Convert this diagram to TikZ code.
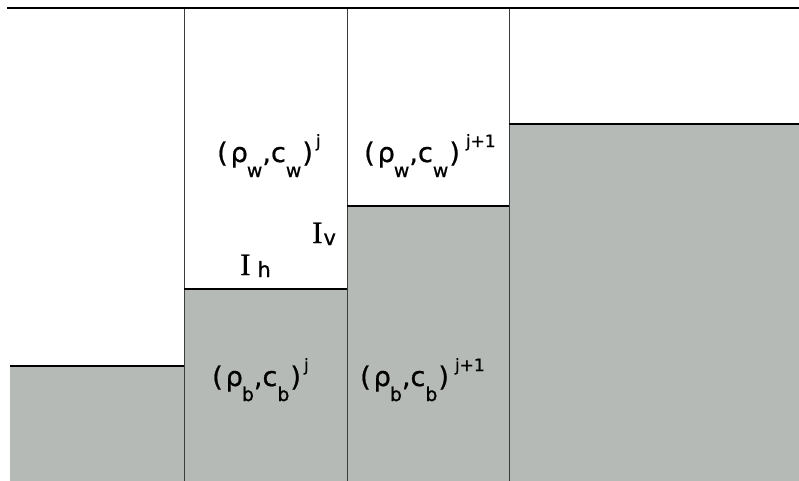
\documentclass[tikz,border=0pt]{standalone}
\usepackage{fontspec}
\setmainfont{DejaVu Sans}[FakeBold=0.8]
\newfontfamily\serifI{Liberation Serif}[FakeBold=0.8]
\definecolor{layergray}{RGB}{182,186,182}
\definecolor{gridline}{RGB}{60,60,60}
\newcommand\lowtxt[2]{\raisebox{-#1}{\fontsize{19}{19}\selectfont #2}}
\newcommand\hightxt[1]{\raisebox{15pt}{\fontsize{17}{17}\selectfont #1}}
\tikzset{
  boundary/.style={line width=2.8pt, black},
  divider/.style={line width=1pt, gridline},
  bed/.style={fill=layergray, draw=none},
  lbl/.style={anchor=base west, inner sep=0pt, font=\fontsize{27}{27}\selectfont},
  ilbl/.style={anchor=base west, inner sep=0pt}
}
\begin{document}
\begin{tikzpicture}[x=1pt,y=-1pt]
\useasboundingbox (0,0) rectangle (799,481);
% gray beds
\fill[bed] (10,366) rectangle (184,481);
\fill[bed] (184,289) rectangle (347,481);
\fill[bed] (347,206) rectangle (509,481);
\fill[bed] (509,124) rectangle (799,481);
% dividers
\draw[divider] (184,8) -- (184,481);
\draw[divider] (347,8) -- (347,481);
\draw[divider] (509,8) -- (509,481);
% boundaries
\draw[boundary] (7,8) -- (799,8);
\draw[boundary] (10,366) -- (184,366);
\draw[boundary] (184,289) -- (347,289);
\draw[boundary] (347,206) -- (509,206);
\draw[boundary] (509,124) -- (799,124);
% labels
\node[lbl] (wj) at (217,162) {(\kern3pt ρ\kern-1pt\lowtxt{15pt}{w}\kern0pt,c\kern0pt\lowtxt{15pt}{w}\kern1pt)\kern3pt\hightxt{j}};
\node[lbl] (wj1) at (364,162) {(\kern3pt ρ\kern-1pt\lowtxt{15pt}{w}\kern0pt,c\kern0pt\lowtxt{15pt}{w}\kern1pt)\kern6pt\hightxt{j+1}};
\node[lbl] (bj) at (212,386) {(\kern3pt ρ\kern-1pt\lowtxt{15pt}{b}\kern0pt,c\kern0pt\lowtxt{15pt}{b}\kern1pt)\kern3pt\hightxt{j}};
\node[lbl] (bj1) at (360,386) {(\kern3pt ρ\kern-1pt\lowtxt{15pt}{b}\kern0pt,c\kern0pt\lowtxt{15pt}{b}\kern1pt)\kern6pt\hightxt{j+1}};
\node[ilbl] (iv) at (312,243) {{\serifI\fontsize{31}{31}\selectfont I}\kern1pt\raisebox{-2pt}{\fontsize{21}{21}\selectfont v}};
\node[ilbl] (ih) at (240,275) {{\serifI\fontsize{31}{31}\selectfont I}\kern7pt\raisebox{-2pt}{\fontsize{21}{21}\selectfont h}};
\end{tikzpicture}
\end{document}
